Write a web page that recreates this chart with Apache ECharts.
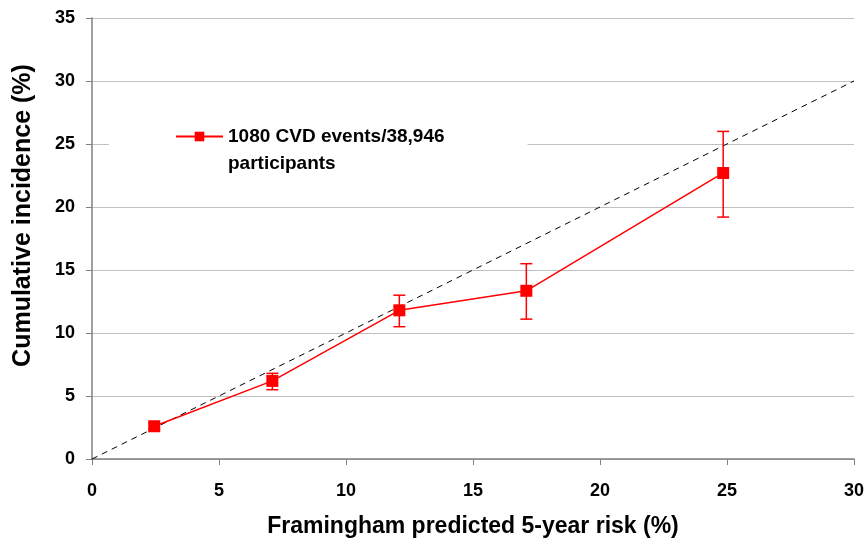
<!DOCTYPE html>
<html>
<head>
<meta charset="utf-8">
<script src="https://cdn.jsdelivr.net/npm/echarts@6/dist/echarts.min.js"></script>
<style>
  html, body { margin: 0; padding: 0; background: #fff; }
  #chart { width: 867px; height: 544px; }
</style>
</head>
<body>
<div id="chart"></div>
<script>
// Observed vs. predicted risk by group
const predictedRisk = [2.45, 7.1, 12.1, 17.1, 24.85];
const cumulativeIncidence = [2.6, 6.2, 11.8, 13.35, 22.7];
const ciLower = [2.35, 5.5, 10.5, 11.1, 19.2];
const ciUpper = [2.85, 6.8, 13.0, 15.5, 26.0];
const identityLine = [[0, 0], [30, 30]];
const seriesName = '1080 CVD events/38,946 participants';
const legendLines = ['1080 CVD events/38,946', 'participants'];

const FONT = '"Liberation Sans", Arial, sans-serif';
const RED = '#ff0000';

const points = predictedRisk.map((x, i) => [x, cumulativeIncidence[i]]);
const errorData = predictedRisk.map((x, i) => [x, ciLower[i], ciUpper[i]]);

const chart = echarts.init(document.getElementById('chart'), null, { renderer: 'canvas' });

chart.setOption({
  animation: false,
  backgroundColor: '#ffffff',
  grid: { left: 92, right: 10, top: 18, bottom: 85, containLabel: false },
  xAxis: {
    type: 'value',
    min: 0, max: 30, interval: 5,
    name: 'Framingham predicted 5-year risk (%)',
    nameLocation: 'middle',
    nameGap: 56,
    nameTextStyle: { fontFamily: FONT, fontWeight: 'bold', fontSize: 23, color: '#000' },
    axisLine: { lineStyle: { color: '#808080', width: 1.5 } },
    axisTick: { show: true, inside: false, length: 6, lineStyle: { color: '#808080', width: 1 } },
    axisLabel: { fontFamily: FONT, fontWeight: 'bold', fontSize: 18, color: '#000', margin: 23 },
    splitLine: { show: false }
  },
  yAxis: {
    type: 'value',
    min: 0, max: 35, interval: 5,
    name: 'Cumulative incidence (%)',
    nameLocation: 'middle',
    nameGap: 56,
    nameRotate: 90,
    nameTextStyle: {
      fontFamily: FONT, fontWeight: 'bold', fontSize: 25, color: '#000',
      padding: [0, 0, 0, 46]
    },
    axisLine: { show: true, lineStyle: { color: '#808080', width: 1.5 } },
    axisTick: { show: true, inside: false, length: 6, lineStyle: { color: '#808080', width: 1 } },
    axisLabel: { fontFamily: FONT, fontWeight: 'bold', fontSize: 18, color: '#000', margin: 17 },
    splitLine: { show: true, lineStyle: { color: '#c0c0c0', width: 1 } }
  },
  legend: {
    show: true,
    data: [seriesName],
    left: 109,
    top: 88,
    padding: [8, 83, 8, 66],
    backgroundColor: '#ffffff',
    itemWidth: 47,
    itemHeight: 12,
    itemGap: 0,
    selectedMode: false,
    // empty first line keeps the key centred on the first text line
    formatter: function () { return '\n' + legendLines.join('\n'); },
    textStyle: {
      fontFamily: FONT, fontWeight: 'bold', fontSize: 19, color: '#000',
      lineHeight: 27
    }
  },
  series: [
    {
      name: 'identity',
      type: 'line',
      data: identityLine,
      symbol: 'none',
      silent: true,
      lineStyle: { color: '#000', width: 1, type: [6, 5] },
      z: 1
    },
    {
      name: 'ci',
      type: 'custom',
      data: errorData,
      z: 2,
      renderItem: function (params, api) {
        const x = api.value(0);
        const lo = api.coord([x, api.value(1)]);
        const hi = api.coord([x, api.value(2)]);
        const half = 6;
        const style = { stroke: RED, lineWidth: 1.5 };
        return {
          type: 'group',
          children: [
            { type: 'line', shape: { x1: lo[0], y1: lo[1], x2: hi[0], y2: hi[1] }, style: style },
            { type: 'line', shape: { x1: lo[0] - half, y1: lo[1], x2: lo[0] + half, y2: lo[1] }, style: style },
            { type: 'line', shape: { x1: hi[0] - half, y1: hi[1], x2: hi[0] + half, y2: hi[1] }, style: style }
          ]
        };
      }
    },
    {
      name: seriesName,
      type: 'line',
      data: points,
      symbol: 'rect',
      symbolSize: 12,
      itemStyle: { color: RED },
      lineStyle: { color: RED, width: 1.5 },
      z: 3
    }
  ]
});
</script>
</body>
</html>
